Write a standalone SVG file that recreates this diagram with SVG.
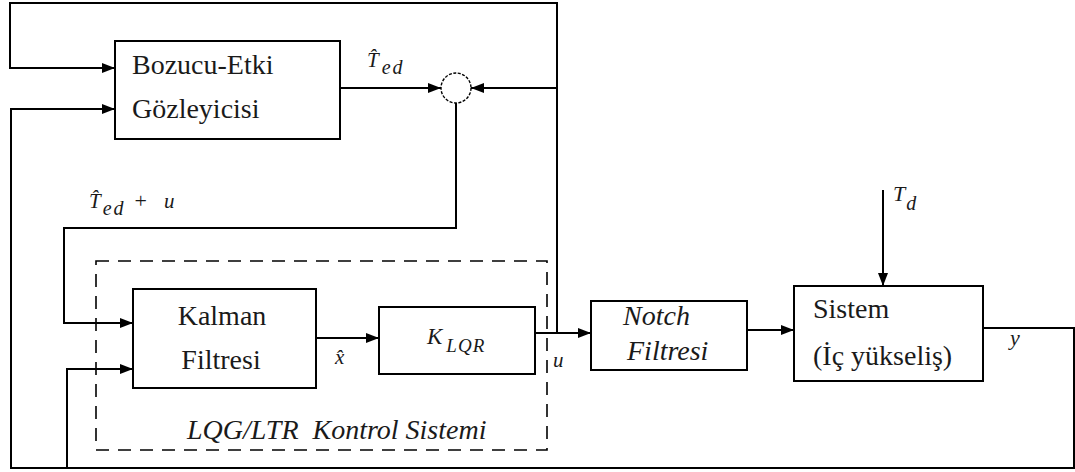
<svg xmlns="http://www.w3.org/2000/svg" width="1075" height="472" viewBox="0 0 1075 472">
<style>
.box{fill:#fff;stroke:#000;stroke-width:2}
.ln{fill:none;stroke:#000;stroke-width:2}
text{font-family:"Liberation Serif",Tinos,"Times New Roman",Times,"DejaVu Serif",serif;fill:#1a1a1a}
.t{font-size:28px}
.i{font-style:italic}
.m{font-style:italic;font-size:21px}
.s{font-size:20px}
</style>
<defs>
<marker id="ah" markerUnits="userSpaceOnUse" markerWidth="14" markerHeight="12" refX="13" refY="5" orient="auto">
<path d="M0,0 L13,5 L0,10 z" fill="#000"/>
</marker>
</defs>
<rect width="1075" height="472" fill="#fff"/>
<g id="connectors">
<path class="ln" d="M557,333 V3 H10 V68 H115" marker-end="url(#ah)"/>
<path class="ln" d="M983,328 H1074 V468 H11 V109 H115" marker-end="url(#ah)"/>
<path class="ln" d="M67,468 V369 H133" marker-end="url(#ah)"/>
<path class="ln" d="M340,88 H441" marker-end="url(#ah)"/>
<path class="ln" d="M557,88 H471" marker-end="url(#ah)"/>
<path class="ln" d="M456,103 V228 H64 V323 H133" marker-end="url(#ah)"/>
<path class="ln" d="M316,338 H379" marker-end="url(#ah)"/>
<path class="ln" d="M535,333 H591" marker-end="url(#ah)"/>
<path class="ln" d="M747,330 H794" marker-end="url(#ah)"/>
<path class="ln" d="M883,190 V286" marker-end="url(#ah)"/>
</g>
<g id="lqg-group">
<rect x="96" y="261" width="451" height="189" fill="none" stroke="#000" stroke-width="1.6" stroke-dasharray="13 9"/>
<text class="t i" x="187" y="439" xml:space="preserve">LQG/LTR  Kontrol Sistemi</text>
</g>
<g id="bozucu">
<rect class="box" x="115" y="41" width="225" height="98"/>
<text class="t" x="132" y="74">Bozucu-Etki</text>
<text class="t" x="132" y="118">Gözleyicisi</text>
</g>
<g id="sum">
<circle cx="456" cy="88" r="15" fill="#fff" stroke="#000" stroke-width="1.4" stroke-dasharray="3 1.5"/>
</g>
<g id="kalman">
<rect class="box" x="133" y="289" width="183" height="99"/>
<text class="t" x="222" y="325" text-anchor="middle">Kalman</text>
<text class="t" x="221" y="369" text-anchor="middle">Filtresi</text>
</g>
<g id="klqr">
<rect class="box" x="379" y="307" width="156" height="67"/>
<text class="m" x="427" y="344" style="font-size:23px">K<tspan style="font-size:19px" dx="4" dy="8" letter-spacing="1">LQR</tspan></text>
</g>
<g id="notch">
<rect class="box" x="591" y="301" width="156" height="69"/>
<text class="t i" x="623" y="325">Notch</text>
<text class="t i" x="627" y="360">Filtresi</text>
</g>
<g id="sistem">
<rect class="box" x="794" y="286" width="189" height="95"/>
<text class="t" x="813" y="318">Sistem</text>
<text class="t" x="813" y="365">(İç yükseliş)</text>
</g>
<g id="labels">
<text class="m" x="367" y="67">T̂<tspan class="s" dx="3" dy="7" letter-spacing="2">ed</tspan></text>
<text class="m" x="89" y="208">T̂<tspan class="s" dx="2" dy="7" letter-spacing="2">ed</tspan><tspan font-style="normal" style="font-size:22px" dx="9" dy="-7">+</tspan><tspan dx="17">u</tspan></text>
<text class="m" x="335" y="364">x̂</text>
<text class="m" x="553" y="367">u</text>
<text class="m" x="893" y="201" style="font-size:22px">T<tspan class="s" dx="1" dy="9">d</tspan></text>
<text class="m" x="1010" y="345" style="font-size:22px">y</text>
</g>
</svg>
